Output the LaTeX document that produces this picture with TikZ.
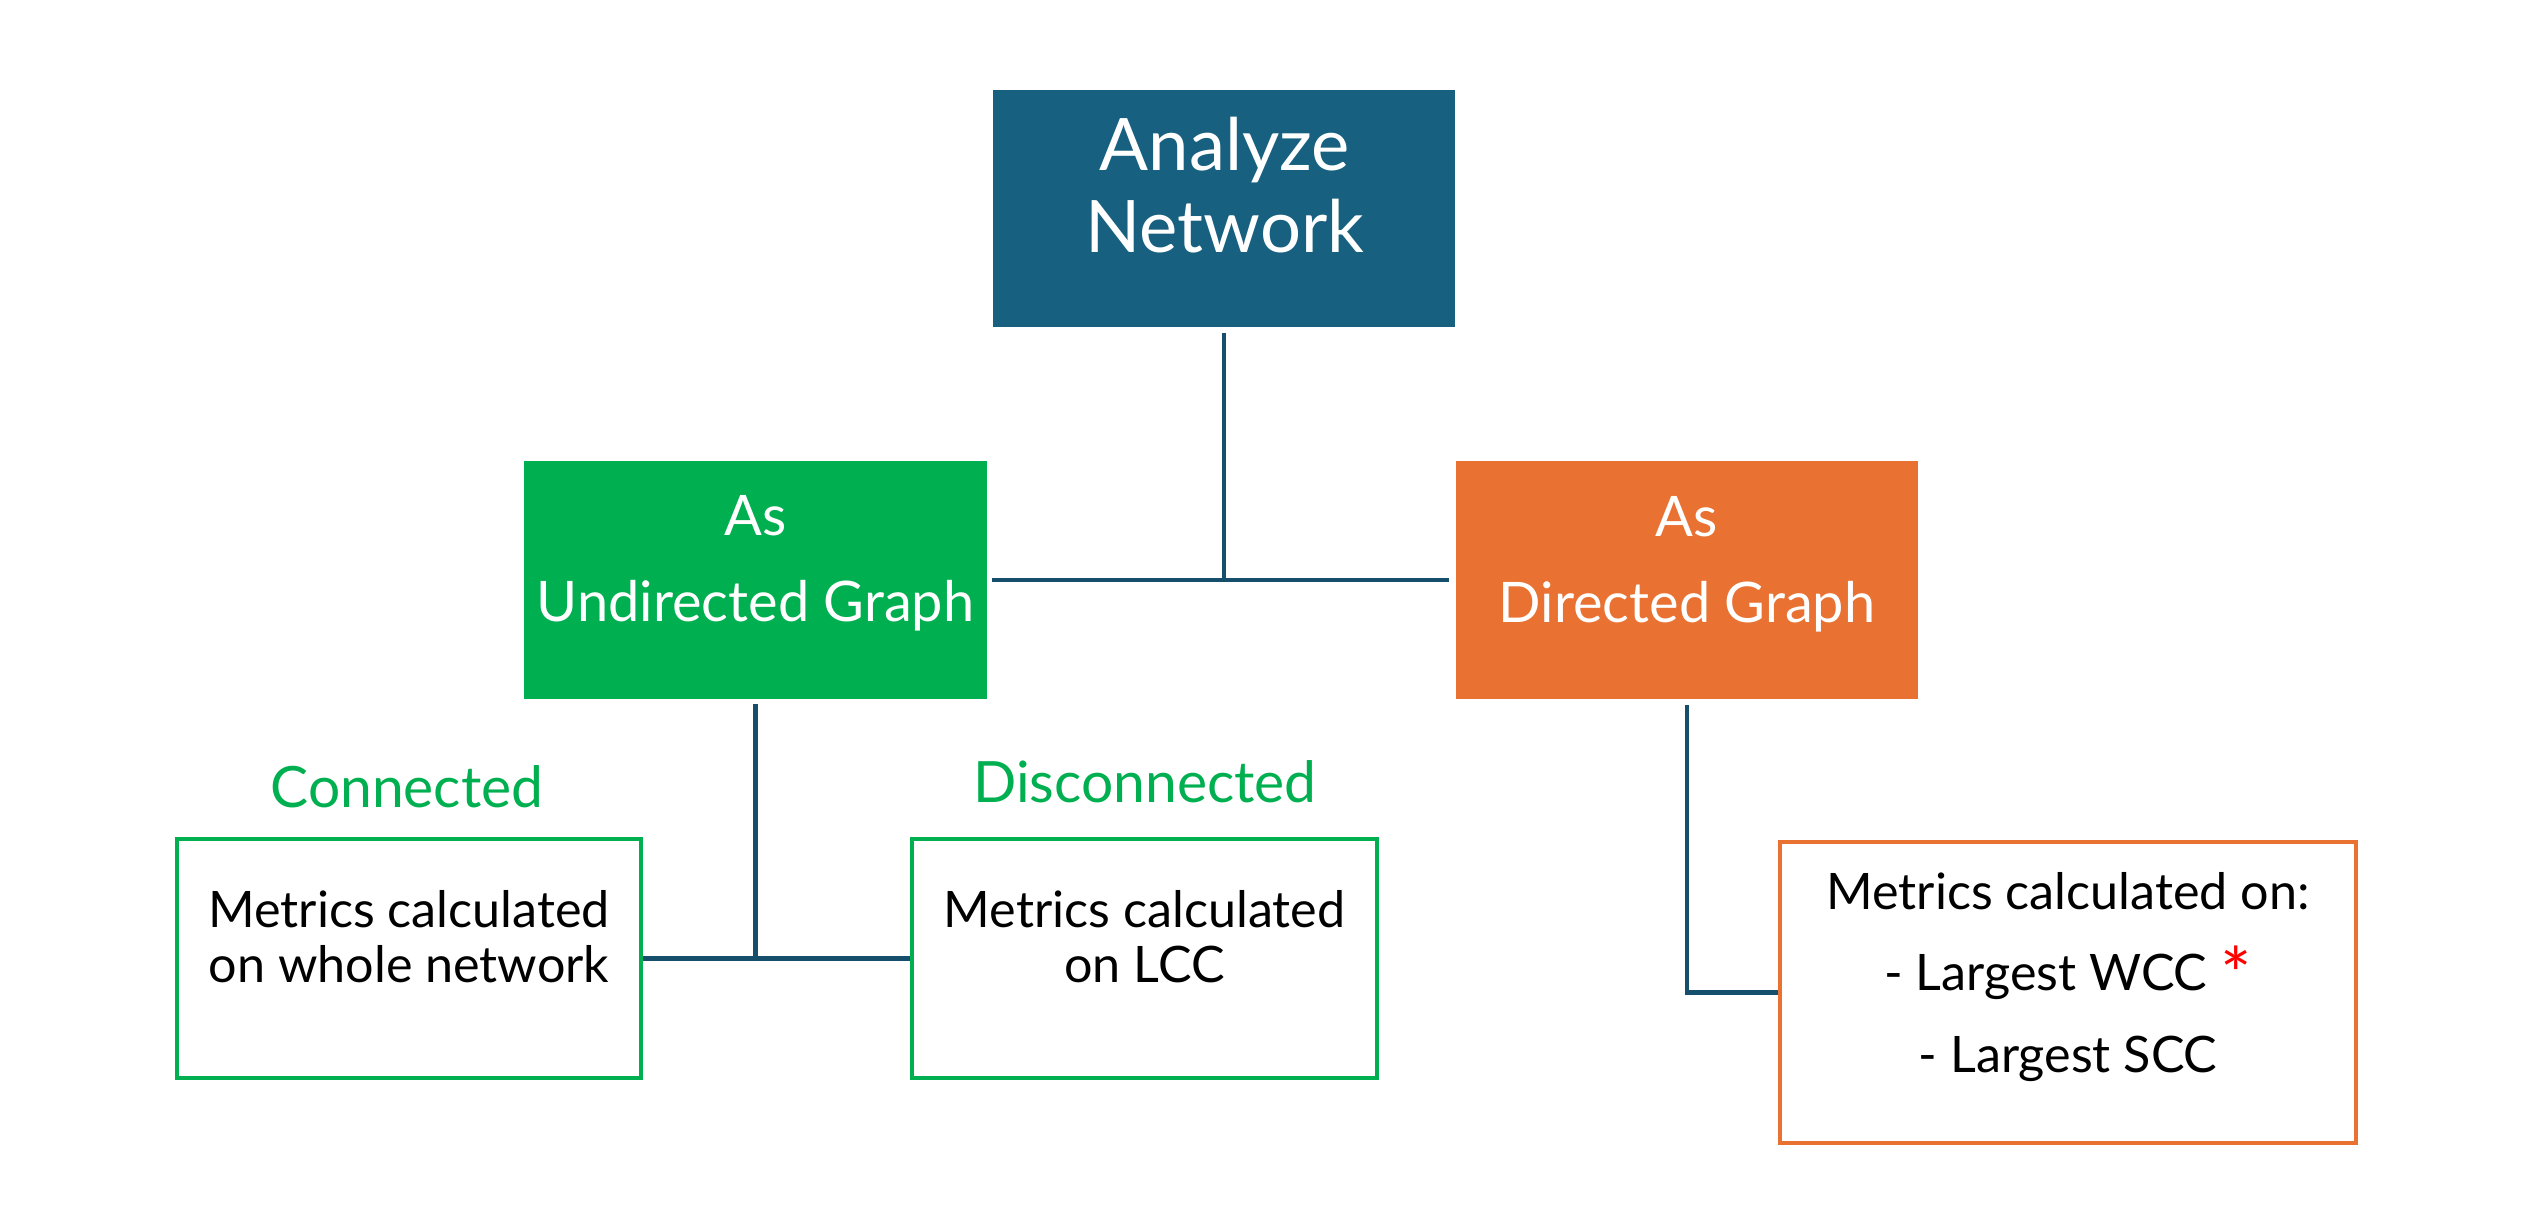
\documentclass[tikz,border=0pt]{standalone}
\usepackage{fontspec}
\setmainfont{Lato}
\definecolor{navyfill}{HTML}{17607F}
\definecolor{linec}{HTML}{154F6C}
\definecolor{grn}{HTML}{00B050}
\definecolor{org}{HTML}{E97132}
\definecolor{ast}{HTML}{FF0000}
\begin{document}
\begin{tikzpicture}[x=0.01cm,y=-0.01cm]
\tikzset{
  fbox/.style={draw=none, fill=#1, minimum width=4.62cm, minimum height=2.37cm, inner sep=0pt},
  obox/.style={draw=#1, line width=1.2pt, fill=white, inner sep=0pt},
  conn/.style={draw=linec, line width=1.4pt},
  txt/.style={anchor=base, inner sep=0pt},
  bigtxt/.style={txt, text=white, font=\fontsize{20.6}{24}\selectfont},
  headtxt/.style={txt, text=white, font=\fontsize{15.9}{18}\selectfont},
  gtxt/.style={txt, text=grn, font=\fontsize{16.2}{18}\selectfont},
  mtxt/.style={txt, text=black, font=\fontsize{14.3}{16}\selectfont},
}
\useasboundingbox (0,0) rectangle (2524,1210);
\fill[white] (0,0) rectangle (2524,1210);

% filled boxes
\node[fbox=navyfill] (an) at (1224,208.5) {};
\node[fbox=grn] (ud) at (755.5,580) {};
\node[fbox=org] (dg) at (1687,580) {};

% outlined boxes
\node[obox=grn, minimum width=4.64cm, minimum height=2.39cm] (cn) at (409,958.5) {};
\node[obox=grn, minimum width=4.65cm, minimum height=2.39cm] (dc) at (1144.5,958.5) {};
\node[obox=org, minimum width=5.76cm, minimum height=3.01cm] (dm) at (2068,992.5) {};

% texts
\node[bigtxt] (an1) at (1225,171) {Analyze};
\node[bigtxt] (an2) at (1225,253) {Network};
\node[headtxt] (ud1) at (755.5,536) {As};
\node[headtxt] (ud2) at (755.5,622) {Undirected Graph};
\node[headtxt] (dg1) at (1687,537) {As};
\node[headtxt] (dg2) at (1687,623) {Directed Graph};
\node[gtxt] (cnl) at (407,808) {Connected};
\node[gtxt] (dcl) at (1145,803) {Disconnected};
\node[mtxt] (cn1) at (409,928) {Metrics calculated};
\node[mtxt] (cn2) at (409,983) {on whole network};
\node[mtxt] (dc1) at (1144.5,928) {Metrics calculated};
\node[mtxt] (dc2) at (1144.5,983) {on LCC};
\node[mtxt] (dm1) at (2068,910) {Metrics calculated on:};
\node[mtxt] (dm2) at (2068,991) {- Largest WCC \raisebox{-3pt}{\textcolor{ast}{\fontsize{21}{21}\selectfont *}}};
\node[mtxt] (dm3) at (2068,1072) {- Largest SCC};

% connectors
\coordinate (j1) at (an.south |- ud.east);
\draw[conn] ([yshift=-1.4pt]an.south) -- (j1);
\draw[conn] ([xshift=1.2pt]ud.east) -- ([xshift=-1.7pt]dg.west);
\coordinate (j2) at (ud.south |- cn.east);
\draw[conn] ([yshift=-1.4pt]ud.south) -- (j2);
\draw[conn] (cn.east) -- (dc.west);
\draw[conn] ([yshift=-1.7pt]dg.south) |- (dm.west);
\end{tikzpicture}
\end{document}
